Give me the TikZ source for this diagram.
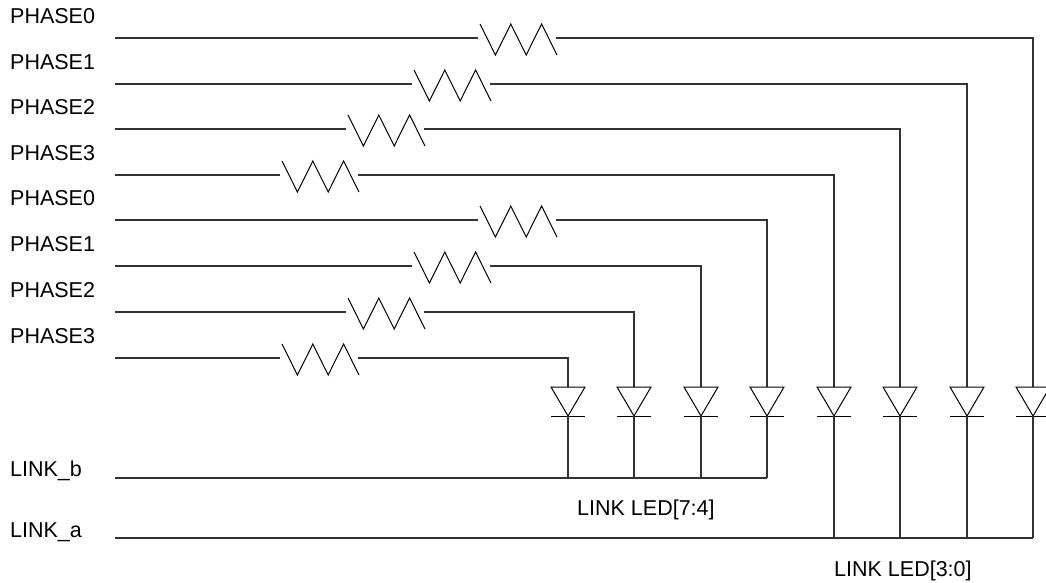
\documentclass[tikz,border=0pt]{standalone}
\usepackage{fontspec}
\setmainfont{Liberation Sans}
\begin{document}
\begin{tikzpicture}[x=1pt,y=-1pt,
  wire/.style={line width=1.1pt, draw=black!80},
  zig/.style={line width=1pt, line join=miter},
  diodeshape/.style={line width=1pt},
  lbl/.style={anchor=base west, inner sep=0pt, font=\fontsize{21.5}{26}\selectfont}]
\useasboundingbox (0,0) rectangle (1046,583);
\foreach \i/\y/\rx/\dx/\by/\lab in {
  0/38/480/1033/538/PHASE0, 1/84/414/967/538/PHASE1,
  2/129/348/900/538/PHASE2, 3/175/282/834/538/PHASE3,
  4/220/480/767/478/PHASE0, 5/266/414/701/478/PHASE1,
  6/312/348/634/478/PHASE2, 7/358/282/568/478/PHASE3}{
  \node[lbl] (p\i) at (10,\y-14.5) {\lab};
  \coordinate (s\i) at (115,\y);
  \coordinate (rl\i) at (\rx-2,\y);
  \coordinate (rr\i) at (\rx+76,\y);
  \coordinate (c\i) at (\dx,\y);
  \coordinate (a\i) at (\dx,387);
  \coordinate (k\i) at (\dx,416);
  \coordinate (b\i) at (\dx,\by);
  \draw[wire] (s\i) -- (rl\i);
  \draw[zig] (\rx,\y-14) -- ++(15.4,31) -- ++(15.4,-31) -- ++(15.4,31)
             -- ++(15.4,-31) -- ++(15.4,31);
  \draw[wire] (rr\i) -- (c\i) -- (a\i);
  \draw[diodeshape] (\dx-17,387) -- (\dx+17,387) -- (k\i) -- cycle;
  \draw[diodeshape] (\dx-17,416) -- (\dx+17,416);
  \draw[wire] (k\i) -- (b\i);
}
\coordinate (lbs) at (115,478);
\coordinate (las) at (115,538);
\draw[wire] (lbs) -- (b4);
\draw[wire] (las) -- (b0);
\node[lbl] (linkb) at (10,476) {LINK\_b};
\node[lbl] (linka) at (10,537) {LINK\_a};
\node[lbl] (led74) at (577,515) {LINK LED[7:4]};
\node[lbl] (led30) at (834,576) {LINK LED[3:0]};
\end{tikzpicture}
\end{document}
